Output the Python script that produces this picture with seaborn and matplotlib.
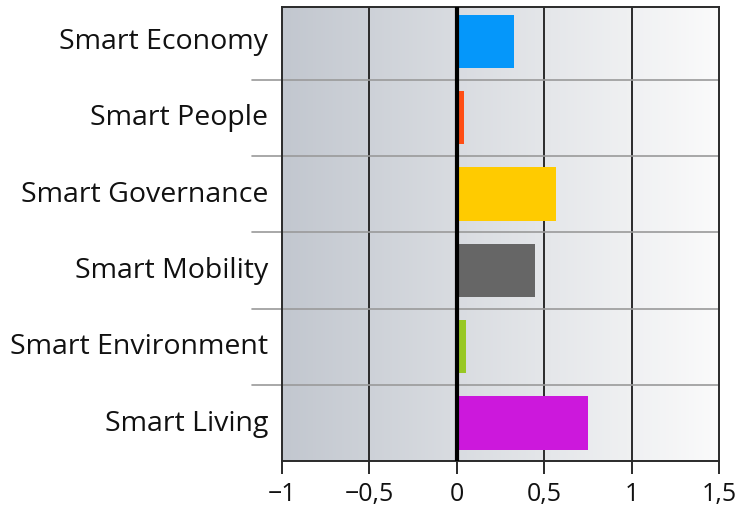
import numpy as np
import pandas as pd
import matplotlib
matplotlib.use("Agg")
import matplotlib.pyplot as plt
import matplotlib.transforms as mtransforms
import seaborn as sns

categories = ["Smart Economy", "Smart People", "Smart Governance",
              "Smart Mobility", "Smart Environment", "Smart Living"]
values = [0.33, 0.04, 0.57, 0.45, 0.05, 0.75]
colors = ["#0597FA", "#FF4E14", "#FFCB00", "#666666", "#98C823", "#CC18DC"]
tick_values = [-1, -0.5, 0, 0.5, 1, 1.5]
tick_labels = ["\u22121", "\u22120,5", "0", "0,5", "1", "1,5"]

sns.set_theme(style="white")
plt.rcParams["font.family"] = ["Open Sans", "DejaVu Sans"]

df = pd.DataFrame({"category": categories, "value": values})

fig = plt.figure(figsize=(7.42, 5.09), dpi=100)
ax = fig.add_axes([0.380, 0.094, 0.589, 0.892])

# grey-to-white horizontal gradient behind the plot
grad = np.linspace(0, 1, 256).reshape(1, -1)
left = np.array([194, 199, 207]) / 255
right = np.array([251, 251, 251]) / 255
img = left[None, None, :] * (1 - grad[..., None]) + right[None, None, :] * grad[..., None]
ax.imshow(img, extent=[-1, 1.5, 5.5, -0.5], aspect="auto", zorder=0,
          interpolation="bilinear")

sns.barplot(data=df, x="value", y="category", hue="category", palette=colors,
            orient="h", width=0.7, legend=False, ax=ax, zorder=2,
            saturation=1, linewidth=0)

ax.set_xlim(-1, 1.5)
ax.set_ylim(5.5, -0.45)

# vertical grid lines
for xv in [-0.5, 0.5, 1]:
    ax.axvline(xv, color="#2a2a2a", lw=1.4, zorder=1)
ax.axvline(0, color="black", lw=3, zorder=3)

# row separators reaching out under the labels
trans = mtransforms.blended_transform_factory(ax.transAxes, ax.transData)
for yv in np.arange(0.5, len(categories) - 0.5, 1):
    ax.plot([-0.069, 1], [yv, yv], transform=trans, color="#9a9a9a", lw=1.2,
            clip_on=False, zorder=1)

for side in ["left", "right", "top", "bottom"]:
    ax.spines[side].set_visible(True)
    ax.spines[side].set_color("#2a2a2a")
    ax.spines[side].set_linewidth(1.4)

ax.set_xticks(tick_values)
ax.set_xticklabels(tick_labels, fontsize=18, color="#111111")
ax.tick_params(axis="x", direction="out", length=9, width=1.4,
               color="#2a2a2a", pad=6, bottom=True)
ax.tick_params(axis="y", length=0, pad=10, labelsize=20.5, labelcolor="#111111")

# lift the category labels slightly above the row centres
lift = mtransforms.ScaledTranslation(0, 3 / 100, fig.dpi_scale_trans)
for lbl in ax.get_yticklabels():
    lbl.set_transform(lbl.get_transform() + lift)

ax.set_xlabel("")
ax.set_ylabel("")

fig.savefig("out.png", dpi=100)
